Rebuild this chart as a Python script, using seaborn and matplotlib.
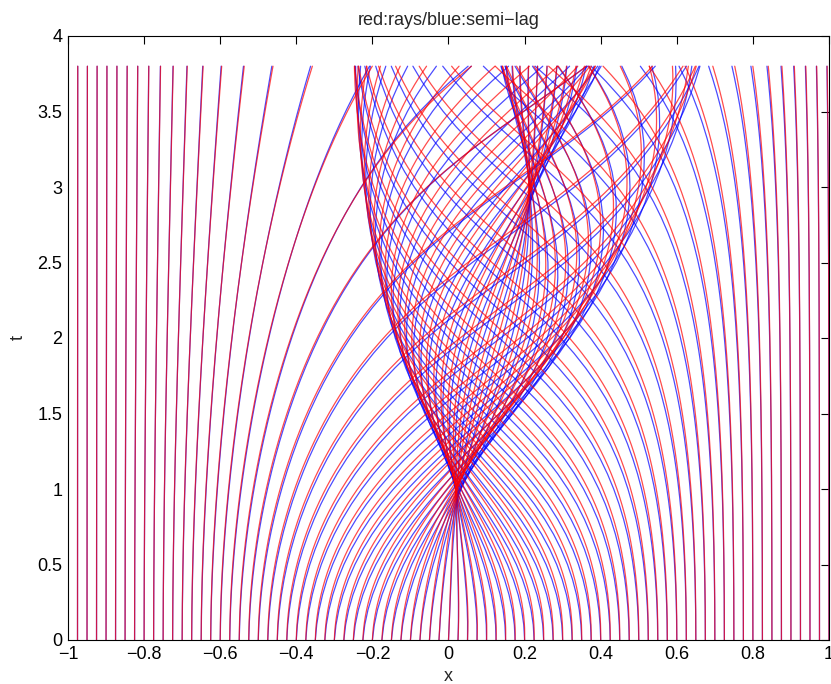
import numpy as np
import pandas as pd
import matplotlib
matplotlib.use("Agg")
import matplotlib.pyplot as plt
from matplotlib.ticker import FuncFormatter
import seaborn as sns

# starting points of the rays on the line t = 0
ray_starts = [
    -1.0, -0.975, -0.95, -0.925, -0.9, -0.875, -0.85, -0.825, -0.8, -0.775,
    -0.75, -0.725, -0.7, -0.675, -0.65, -0.625, -0.6, -0.575, -0.55, -0.525,
    -0.5, -0.475, -0.45, -0.425, -0.4, -0.375, -0.35, -0.325, -0.3, -0.275,
    -0.25, -0.225, -0.2, -0.175, -0.15, -0.125, -0.1, -0.075, -0.05, -0.025,
    0.0, 0.025, 0.05, 0.075, 0.1, 0.125, 0.15, 0.175, 0.2, 0.225,
    0.25, 0.275, 0.3, 0.325, 0.35, 0.375, 0.4, 0.425, 0.45, 0.475,
    0.5, 0.525, 0.55, 0.575, 0.6, 0.625, 0.65, 0.675, 0.7, 0.725,
    0.75, 0.775, 0.8, 0.825, 0.85, 0.875, 0.9, 0.925, 0.95, 0.975, 1.0,
]
t_end = 3.8

# Gaussian potential well drifting to the right, which bends and refocuses the rays
well_center = -0.016
well_speed = 0.067
well_depth = 0.13
well_width = 0.315
# small initial momentum of the rays that start inside the well
kick_amp = 0.0195
kick_width = 0.357

# fine step for the reference rays, coarse grid/step for the semi-Lagrangian rays
dt_ray = 0.01
dt_semi = 0.1
dx_semi = 0.012

x_ticks = [-1, -0.8, -0.6, -0.4, -0.2, 0, 0.2, 0.4, 0.6, 0.8, 1]
t_ticks = [0, 0.5, 1, 1.5, 2, 2.5, 3, 3.5, 4]


def potential(x, t):
    d = x - well_center - well_speed * t
    return -well_depth * np.exp(-(d / well_width) ** 2)


def force_exact(x, t):
    d = x - well_center - well_speed * t
    return -2.0 * well_depth * d / well_width ** 2 * np.exp(-(d / well_width) ** 2)


def force_grid(x, t):
    # one-sided difference of the potential on the semi-Lagrangian grid
    return -(potential(x, t) - potential(x - dx_semi, t)) / dx_semi


def trace_rk4(x, p, dt, n):
    path = [x.copy()]
    t = 0.0
    for _ in range(n):
        k1x, k1p = p, force_exact(x, t)
        k2x, k2p = p + 0.5 * dt * k1p, force_exact(x + 0.5 * dt * k1x, t + 0.5 * dt)
        k3x, k3p = p + 0.5 * dt * k2p, force_exact(x + 0.5 * dt * k2x, t + 0.5 * dt)
        k4x, k4p = p + dt * k3p, force_exact(x + dt * k3x, t + dt)
        x = x + dt / 6.0 * (k1x + 2 * k2x + 2 * k3x + k4x)
        p = p + dt / 6.0 * (k1p + 2 * k2p + 2 * k3p + k4p)
        t += dt
        path.append(x.copy())
    return np.array(path)


def trace_semi(x, p, dt, n, sub=5):
    # coarse symplectic steps; positions in between follow the current momentum
    path = [x.copy()]
    t = 0.0
    for _ in range(n):
        p = p + dt * force_grid(x, t)
        for _ in range(sub):
            x = x + dt / sub * p
            path.append(x.copy())
        t += dt
    return np.array(path)


x0 = np.array(ray_starts)
p0 = kick_amp * np.exp(-((x0 - well_center) / kick_width) ** 2)

n_ray = int(round(t_end / dt_ray))
n_semi = int(round(t_end / dt_semi))
red_paths = trace_rk4(x0, p0, t_end / n_ray, n_ray)
blue_paths = trace_semi(x0, p0, t_end / n_semi, n_semi)
t_ray = np.linspace(0, t_end, n_ray + 1)
t_semi = np.linspace(0, t_end, len(blue_paths))


def to_frame(paths, times):
    n_t, n_r = paths.shape
    return pd.DataFrame({
        "ray": np.tile(np.arange(n_r), n_t),
        "t": np.repeat(times, n_r),
        "x": paths.ravel(),
    })


red_df = to_frame(red_paths, t_ray)
blue_df = to_frame(blue_paths, t_semi)

sns.set_theme(style="white")
plt.rcParams["font.family"] = ["Liberation Sans", "DejaVu Sans"]

fig = plt.figure(figsize=(8.31, 6.84), dpi=100)
ax = fig.add_axes([68 / 831, 44 / 684, 761 / 831, 604 / 684])

sns.lineplot(data=blue_df, x="x", y="t", units="ray", estimator=None, sort=False,
             color=(0, 0, 1), lw=0.9, alpha=0.7, ax=ax, legend=False)
sns.lineplot(data=red_df, x="x", y="t", units="ray", estimator=None, sort=False,
             color=(1, 0, 0), lw=0.9, alpha=0.7, ax=ax, legend=False)

ax.set_xlim(-1, 1)
ax.set_ylim(0, 4)
ax.set_xticks(x_ticks)
ax.set_yticks(t_ticks)
fmt = FuncFormatter(lambda v, pos: ("%g" % v).replace("-", "\u2212"))
ax.xaxis.set_major_formatter(fmt)
ax.yaxis.set_major_formatter(fmt)
ax.tick_params(direction="in", length=6, width=0.8, top=True, right=True,
               labelsize=13, colors="black", pad=4)
for s in ax.spines.values():
    s.set_color("black")
    s.set_linewidth(0.8)
ax.set_xlabel("x", fontsize=13, labelpad=4)
ax.set_ylabel("t", fontsize=13, labelpad=8)
ax.set_title("red:rays/blue:semi\u2212lag", fontsize=13, pad=8)

fig.savefig("out.png", dpi=100)
